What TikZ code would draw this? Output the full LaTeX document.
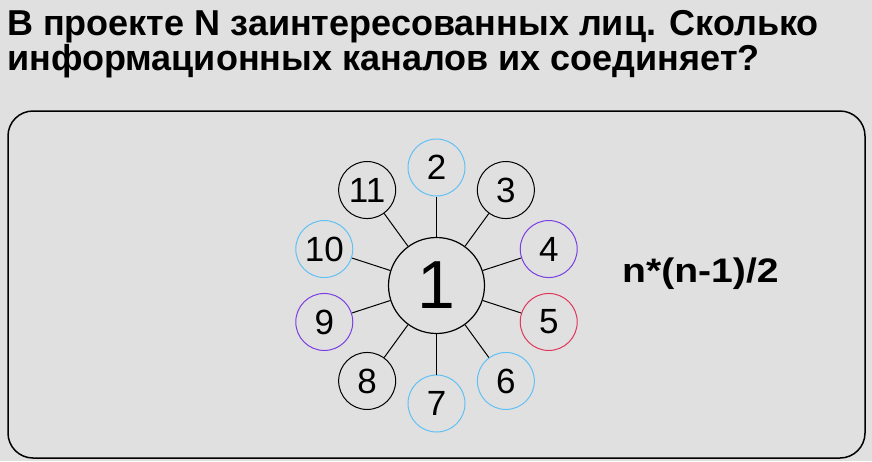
\documentclass[tikz,border=0pt]{standalone}
\usepackage{fontspec}
\setmainfont{Liberation Sans}
\definecolor{bg}{HTML}{E0E0E0}
\definecolor{cblue}{HTML}{62C0F4}
\definecolor{cpurple}{HTML}{7A3EE2}
\definecolor{cred}{HTML}{E0365C}
\tikzset{
  hub/.style={circle, draw=black, line width=1.2pt, fill=bg, minimum size=96pt, inner sep=0pt,
    font=\fontsize{68}{68}\selectfont},
  party/.style={circle, draw=#1, line width=1pt, fill=bg, minimum size=57pt, inner sep=0pt,
    font=\fontsize{35}{35}\selectfont},
  channel/.style={draw=black, line width=1pt},
  titletext/.style={anchor=base west, inner sep=0pt, font=\bfseries\fontsize{36}{36}\selectfont},
}
\begin{document}
\begin{tikzpicture}[x=1pt,y=-1pt]
\fill[bg] (0,0) rectangle (872,461);
\useasboundingbox (0,0) rectangle (872,461);
\node[titletext] (t1) at (7,35) {В проекте N заинтересованных лиц. Сколько};
\node[titletext] (t2) at (7,70) {информационных каналов их соединяет?};
\draw[line width=1.5pt, rounded corners=25pt] (8,111) rectangle (865,458);
\node[hub] (c) at (436.5,285.5) {1};
\foreach \i/\a/\col in {2/90/cblue, 3/54/black, 4/18/cpurple, 5/-18/cred, 6/-54/cblue,
  7/-90/cblue, 8/-126/black, 9/-162/cpurple, 10/162/cblue, 11/126/black}{
  \node[party=\col] (n\i) at ({436.5+118*cos(\a)},{285.5-118*sin(\a)}) {\i};
  \draw[channel] (c) -- (n\i);
}
\node[anchor=west, inner sep=0pt, font=\bfseries\fontsize{34}{34}\selectfont] (f) at (622,274) {\scalebox{1.15}[1]{n*(n-1)/2}};
\end{tikzpicture}
\end{document}
